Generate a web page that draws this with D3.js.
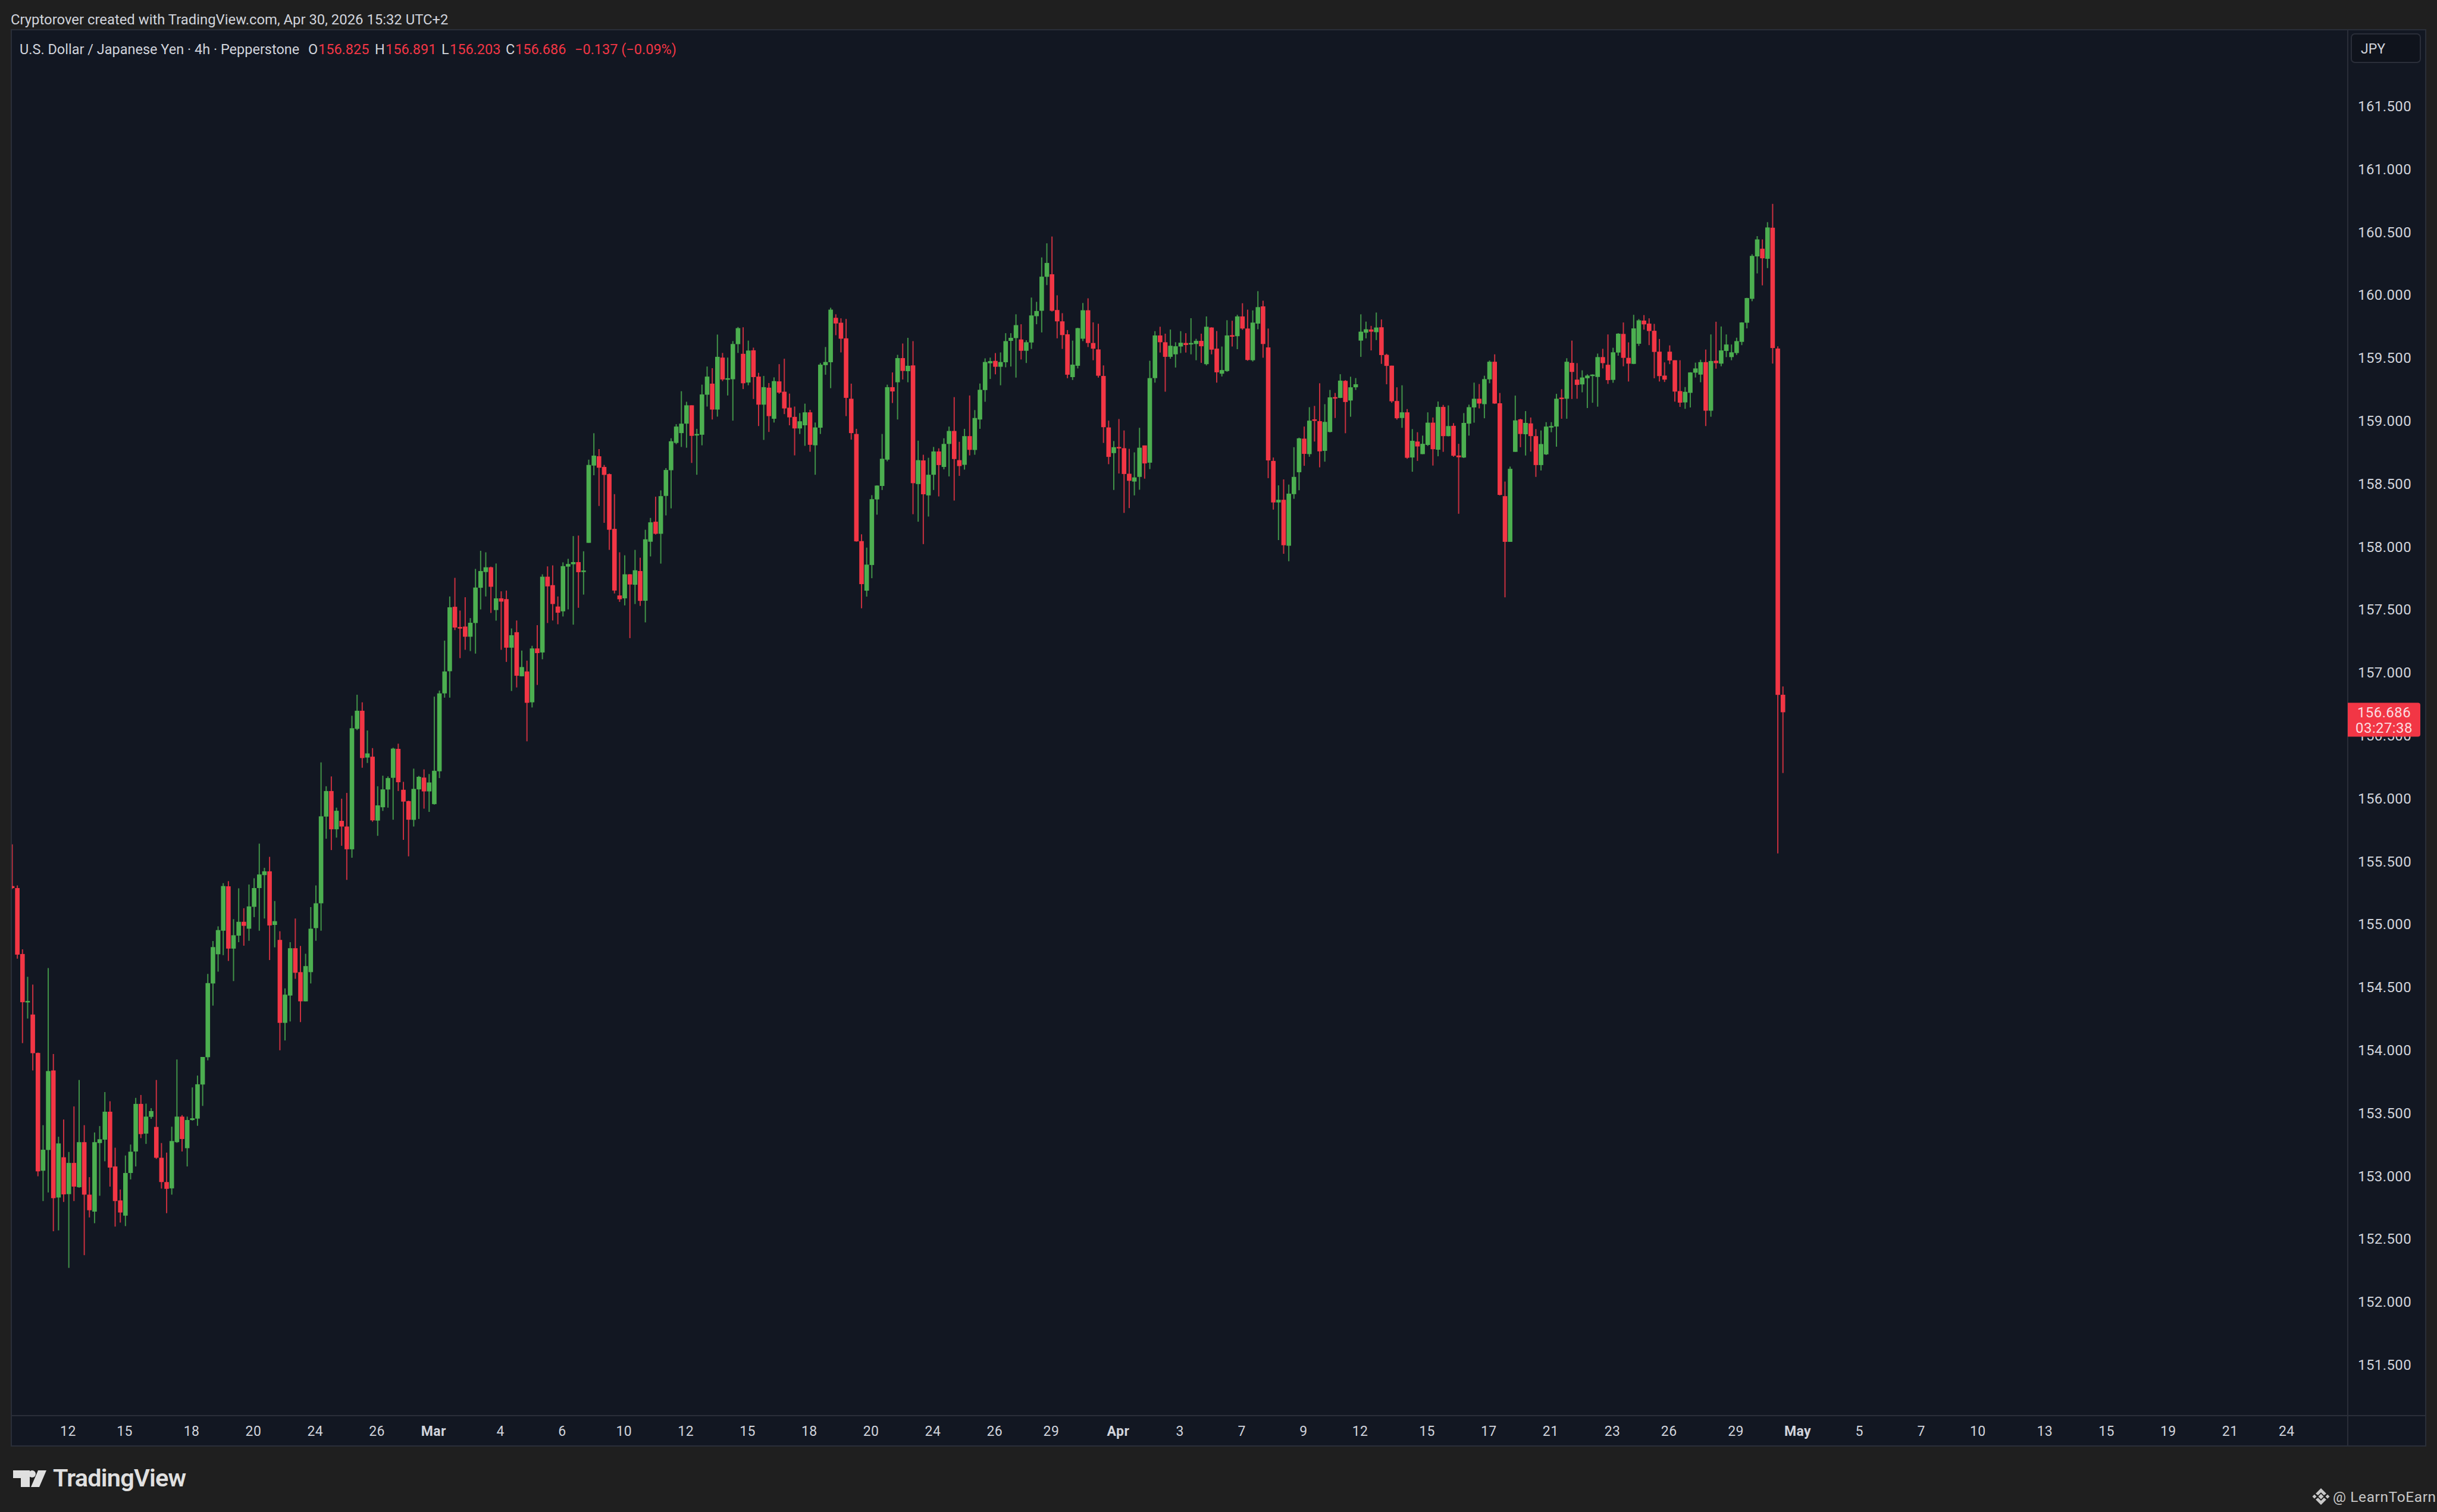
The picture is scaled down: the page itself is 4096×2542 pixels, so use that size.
<!DOCTYPE html>
<html><head><meta charset="utf-8">
<script src="https://cdn.jsdelivr.net/npm/d3@7"></script>
<style>html,body{margin:0;padding:0;background:#1f1f1f}svg{display:block}text{font-family:Roboto,sans-serif}</style>
</head><body><script>
const opens=[155.305,155.289,154.765,154.387,154.284,153.979,153.043,153.208,153.840,152.830,
153.150,152.857,153.105,152.912,153.270,152.853,152.718,153.263,153.290,153.512,
153.077,152.807,152.686,153.025,153.196,153.574,153.338,153.471,153.391,153.146,
152.953,152.903,153.270,153.473,153.222,153.446,153.457,153.728,153.945,154.531,
154.763,154.950,155.303,154.808,154.911,155.021,154.966,155.140,155.289,155.392,
155.422,154.996,154.877,154.218,154.435,154.811,154.621,154.389,154.621,154.971,
155.168,155.857,156.060,155.756,155.823,155.778,155.597,156.554,156.698,156.326,
156.333,155.825,155.931,156.072,156.165,156.395,156.070,155.980,155.831,156.073,
156.167,156.057,155.956,156.217,156.836,157.012,157.524,157.363,157.367,157.286,
157.395,157.675,157.800,157.838,157.498,157.591,157.585,157.199,157.322,156.972,
157.010,156.765,157.193,157.161,157.763,157.696,157.526,157.488,157.843,157.862,
157.879,157.806,158.032,158.646,158.720,158.635,158.578,158.143,157.614,157.591,
157.782,157.699,157.808,157.572,158.041,158.200,158.104,158.405,158.609,158.826,
158.904,158.979,159.125,158.891,158.891,159.209,159.297,159.091,159.504,159.334,
159.332,159.611,159.534,159.306,159.562,159.353,159.130,159.265,159.018,159.315,
159.233,159.106,159.033,158.941,158.966,159.069,158.807,158.947,159.444,159.467,
159.820,159.781,159.657,159.177,158.897,158.046,157.652,157.856,158.377,158.484,
158.693,159.269,159.308,159.500,159.396,159.442,158.499,158.687,158.409,158.573,
158.758,158.635,158.818,158.921,158.689,158.652,158.880,158.770,159.012,159.246,
159.459,159.478,159.431,159.467,159.637,159.659,159.648,159.558,159.624,159.833,
159.876,160.146,160.166,159.882,159.792,159.689,159.349,159.439,159.654,159.880,
159.620,159.569,159.358,158.949,158.745,158.794,158.784,158.581,158.519,158.556,
158.806,158.669,159.341,159.680,159.626,159.510,159.530,159.592,159.620,159.616,
159.612,159.637,159.452,159.743,159.575,159.376,159.397,159.682,159.674,159.831,
159.735,159.483,159.774,159.911,159.585,158.683,158.353,158.374,158.009,158.419,
158.593,158.860,158.737,159.013,158.999,158.763,158.913,159.190,159.184,159.319,
159.163,159.268,159.639,159.702,159.727,159.706,159.745,159.526,159.440,159.159,
159.024,159.069,158.710,158.837,158.737,158.810,158.987,158.772,159.112,158.880,
158.962,158.726,158.710,158.979,159.108,159.177,159.134,159.331,159.471,159.141,
158.403,158.040,158.755,159.013,158.895,158.981,158.880,158.650,158.735,158.954,
158.956,159.186,159.177,159.462,159.329,159.291,159.340,159.363,159.350,159.508,
159.447,159.327,159.544,159.692,159.502,159.454,159.614,159.798,159.774,159.717,
159.551,159.361,159.551,159.483,159.238,159.148,159.224,159.384,159.369,159.468,
159.082,159.479,159.456,159.557,159.508,159.540,159.629,159.781,159.971,160.308,
160.369,160.289,160.536,159.576,156.825];
const highs=[155.637,155.310,154.802,154.584,154.522,153.982,153.405,154.653,153.970,153.313,
153.450,153.192,153.554,153.764,153.405,152.992,153.347,153.398,153.668,153.595,
153.226,152.894,153.164,153.251,153.622,153.645,153.576,153.540,153.764,153.263,
153.187,153.393,153.927,153.485,153.473,153.705,153.799,153.947,154.607,154.868,
154.985,155.328,155.344,155.042,155.287,155.129,155.317,155.367,155.642,155.450,
155.537,155.186,154.946,154.492,154.859,155.047,154.829,154.767,155.138,155.310,
156.287,156.098,156.176,155.928,155.999,156.045,156.658,156.825,156.765,156.541,
156.401,156.098,156.182,156.176,156.404,156.436,156.133,155.984,156.238,156.180,
156.232,156.195,156.810,156.858,157.255,157.606,157.754,157.494,157.600,157.434,
157.825,157.969,157.957,157.843,157.868,157.647,157.653,157.352,157.415,157.176,
157.096,157.214,157.378,157.782,157.845,157.853,157.606,157.877,157.905,158.086,
158.090,157.965,158.693,158.903,158.777,158.651,158.583,158.419,157.957,157.933,
157.784,157.976,157.914,158.136,158.230,158.399,158.449,158.626,158.863,158.975,
159.237,159.153,159.125,158.938,159.289,159.433,159.420,159.687,159.541,159.504,
159.635,159.747,159.745,159.639,159.583,159.383,159.358,159.302,159.347,159.452,
159.495,159.218,159.115,159.063,159.138,159.089,158.988,159.461,159.588,159.900,
159.848,159.816,159.811,159.297,158.938,158.100,157.994,158.411,158.489,158.897,
159.289,159.386,159.526,159.616,159.661,159.635,158.844,158.732,158.708,158.794,
158.783,158.863,158.956,159.190,158.835,158.938,159.203,159.087,159.298,159.498,
159.504,159.540,159.545,159.698,159.698,159.848,159.769,159.642,159.981,159.947,
160.300,160.412,160.466,159.999,159.857,159.723,159.639,159.741,159.938,159.975,
159.784,159.773,159.442,159.003,158.841,159.016,158.925,158.779,158.751,158.946,
158.806,159.479,159.714,159.749,159.694,159.727,159.626,159.714,159.698,159.817,
159.653,159.694,159.831,159.745,159.715,159.592,159.801,159.797,159.844,159.936,
159.885,159.879,160.032,159.956,159.735,158.710,158.489,158.536,158.495,158.792,
158.868,158.956,159.110,159.120,159.300,159.134,159.247,159.223,159.372,159.325,
159.352,159.341,159.848,159.790,159.756,159.862,159.807,159.534,159.440,159.268,
159.284,159.095,158.936,158.911,158.884,159.069,159.028,159.155,159.128,159.124,
158.983,158.819,159.063,159.130,159.305,159.294,159.360,159.481,159.530,159.223,
158.519,158.638,159.202,159.018,159.079,159.028,158.936,158.925,158.991,158.991,
159.216,159.253,159.499,159.639,159.460,159.403,159.371,159.371,159.536,159.574,
159.688,159.582,159.698,159.783,159.625,159.844,159.810,159.842,159.816,159.772,
159.652,159.466,159.601,159.483,159.483,159.270,159.388,159.464,159.487,159.568,
159.688,159.789,159.751,159.688,159.608,159.662,159.785,159.979,160.325,160.469,
160.443,160.580,160.726,159.593,156.891];
const lows=[155.282,154.728,154.057,154.252,153.840,152.999,152.802,152.871,152.562,152.569,
152.795,152.271,152.802,152.908,152.372,152.672,152.626,152.844,153.118,152.917,
152.599,152.631,152.603,152.974,153.077,153.302,153.256,153.455,153.137,152.901,
152.706,152.853,153.265,153.196,153.077,153.441,153.400,153.558,153.920,154.355,
154.625,154.756,154.710,154.550,154.859,154.831,154.870,155.058,154.950,155.047,
154.717,154.818,154.000,154.078,154.229,154.568,154.224,154.389,154.531,154.870,
154.950,155.681,155.591,155.690,155.625,155.354,155.530,156.544,156.245,156.283,
155.816,155.704,155.902,155.928,155.832,156.060,155.672,155.541,155.778,155.838,
155.920,155.894,155.952,156.163,156.802,156.802,157.339,157.116,157.182,157.172,
157.152,157.503,157.606,157.475,157.414,157.182,157.086,156.855,156.883,156.971,
156.455,156.724,156.903,157.107,157.395,157.415,157.385,157.447,157.503,157.382,
157.516,157.621,158.032,158.569,158.325,158.191,157.976,157.630,157.563,157.535,
157.275,157.546,157.531,157.400,157.924,158.098,157.867,158.250,158.306,158.816,
158.794,158.788,158.667,158.573,158.807,159.115,159.012,159.035,159.317,159.203,
159.003,159.541,159.254,159.284,159.175,158.960,158.850,158.913,158.988,159.216,
159.055,158.966,158.727,158.897,158.803,158.756,158.573,158.897,159.368,159.261,
159.682,159.545,159.039,158.852,158.041,157.512,157.605,157.751,158.256,158.452,
158.680,159.143,159.012,159.330,159.308,158.259,158.200,158.022,158.241,158.452,
158.401,158.616,158.560,158.368,158.564,158.614,158.727,158.732,158.938,159.153,
159.334,159.371,159.284,159.427,159.433,159.345,159.489,159.461,159.573,159.769,
159.704,160.080,159.870,159.657,159.573,159.340,159.326,159.418,159.635,159.588,
159.483,159.345,158.826,158.657,158.452,158.583,158.270,158.308,158.409,158.454,
158.542,158.618,159.305,159.544,159.233,159.495,159.425,159.540,159.544,159.530,
159.483,159.462,159.442,159.530,159.305,159.354,159.391,159.592,159.571,159.725,
159.479,159.473,159.729,159.503,158.546,158.296,158.054,157.945,157.886,158.382,
158.450,158.644,158.716,158.837,158.632,158.677,158.909,159.024,159.182,158.903,
159.034,159.247,159.510,159.657,159.561,159.643,159.454,159.292,159.145,159.011,
158.946,158.700,158.597,158.683,158.737,158.802,158.646,158.720,158.755,158.878,
158.716,158.263,158.706,158.884,158.987,159.100,159.022,159.300,159.136,158.409,
157.599,158.040,158.755,158.792,158.726,158.757,158.556,158.607,158.730,158.911,
158.796,159.018,159.018,159.175,159.177,159.228,159.103,159.145,159.114,159.418,
159.295,159.304,159.519,159.435,159.314,159.452,159.597,159.726,159.603,159.340,
159.314,159.310,159.452,159.154,159.112,159.097,159.108,159.346,159.308,158.960,
159.034,159.416,159.435,159.508,159.483,159.525,159.603,159.736,159.952,160.173,
160.078,160.215,159.456,155.564,156.203];
const closes=[155.289,154.760,154.382,154.392,153.977,153.038,153.210,153.835,152.825,153.260,
152.855,153.105,152.917,153.270,152.853,152.729,153.270,153.293,153.512,153.068,
152.802,152.711,153.025,153.194,153.574,153.334,153.473,153.517,153.146,152.953,
152.899,153.279,153.473,153.295,153.446,153.460,153.730,153.947,154.534,154.820,
154.955,155.305,154.808,154.914,155.021,154.989,155.143,155.289,155.397,155.422,
154.992,155.026,154.218,154.442,154.811,154.616,154.389,154.669,154.966,155.168,
155.859,156.060,155.756,155.903,155.778,155.597,156.559,156.698,156.322,156.359,
155.827,155.946,156.073,156.163,156.397,156.130,155.976,155.832,156.077,156.173,
156.057,156.128,156.221,156.836,157.010,157.520,157.359,157.352,157.286,157.397,
157.677,157.808,157.838,157.683,157.591,157.565,157.199,157.298,156.976,157.045,
156.761,157.193,157.156,157.763,157.686,157.546,157.477,157.847,157.864,157.879,
157.799,157.812,158.651,158.725,158.629,158.572,158.136,157.653,157.584,157.782,
157.701,157.814,157.571,158.060,158.195,158.104,158.403,158.611,158.839,158.956,
158.979,159.125,158.882,158.897,159.211,159.353,159.091,159.510,159.330,159.340,
159.612,159.738,159.300,159.560,159.349,159.130,159.269,159.039,159.317,159.226,
159.100,159.029,158.941,158.998,159.069,158.811,158.949,159.448,159.469,159.885,
159.775,159.654,159.184,158.904,158.044,157.704,157.859,158.379,158.487,158.700,
159.269,159.235,159.500,159.398,159.439,158.506,158.689,158.418,158.573,158.758,
158.650,158.818,158.921,158.698,158.642,158.880,158.771,159.024,159.248,159.469,
159.476,159.431,159.469,159.635,159.661,159.762,159.558,159.626,159.839,159.874,
160.147,160.256,159.876,159.792,159.683,159.368,159.448,159.738,159.880,159.620,
159.575,159.360,158.951,158.715,158.792,158.788,158.579,158.525,158.552,158.788,
158.663,159.341,159.680,159.626,159.510,159.598,159.594,159.622,159.604,159.620,
159.637,159.594,159.749,159.567,159.387,159.405,159.680,159.674,159.831,159.735,
159.485,159.782,159.905,159.612,158.687,158.353,158.374,158.013,158.423,158.556,
158.862,158.739,159.003,159.005,158.759,158.993,159.188,159.184,159.321,159.151,
159.268,159.292,159.710,159.729,159.710,159.743,159.524,159.438,159.157,159.022,
159.069,158.708,158.843,158.798,158.819,158.987,158.776,159.112,158.880,158.960,
158.724,158.712,158.985,159.110,159.177,159.139,159.333,159.471,159.139,158.413,
158.040,158.620,159.005,158.897,158.985,158.880,158.650,158.817,158.956,158.960,
159.177,159.179,159.471,159.390,159.287,159.346,159.361,159.369,159.508,159.460,
159.325,159.546,159.694,159.502,159.456,159.736,159.800,159.768,159.715,159.549,
159.357,159.329,159.481,159.234,159.146,159.232,159.386,159.418,159.468,159.082,
159.477,159.460,159.561,159.608,159.546,159.635,159.783,159.977,160.312,160.443,
160.293,160.538,159.580,156.824,156.686];
const priceTicks=[161.5,161,160.5,160,159.5,159,158.5,158,157.5,157,156.5,156,155.5,155,154.5,154,153.5,153,152.5,152,151.5];
const timeTickIndex=[10.8,21.8,34.8,46.8,58.8,70.8,81.8,94.8,106.8,118.8,130.8,142.8,154.8,166.8,178.8,190.8,201.8,214.8,226.8,238.8,250.8,261.8,274.8,286.8,298.8,310.8,321.8,334.8,346.8,358.8,370.8,381.8,394.8,406.8,418.8,430.8,441.8];
const timeTickLabels=["12","15","18","20","24","26","Mar","4","6","10","12","15","18","20","24","26","29","Apr","3","7","9","12","15","17","21","23","26","29","May","5","7","10","13","15","19","21","24"];
const lastPrice=156.686, countdown="03:27:38";

const W=4096,H=2542,L=19,R=3946,RO=4077,T=50,B=2380,BO=2431;
const GREEN="#4caf50",RED="#f23645",TXT="#d1d4dc",PANEL="#121722",LINE="#2a2e39",BG="#1f1f1f";
const svg=d3.select("body").append("svg").attr("width",W).attr("height",H);
svg.append("rect").attr("width",W).attr("height",H).attr("fill",BG);
svg.append("rect").attr("x",L).attr("y",T).attr("width",RO-L).attr("height",BO-T).attr("fill",PANEL).attr("stroke",LINE).attr("stroke-width",2);
svg.append("line").attr("x1",L).attr("x2",RO).attr("y1",B).attr("y2",B).attr("stroke",LINE).attr("stroke-width",2);
svg.append("line").attr("x1",R).attr("x2",R).attr("y1",T).attr("y2",BO).attr("stroke",LINE).attr("stroke-width",2);

const x=d3.scaleLinear().domain([0,344]).range([20.5,2996.7]);
const y=d3.scaleLinear().domain([151.097,162.109]).range([B,T]);
svg.append("clipPath").attr("id","plot").append("rect").attr("x",L+1).attr("y",T).attr("width",R-L-1).attr("height",B-T);

const candles=d3.range(opens.length).map(i=>({i,o:opens[i],h:highs[i],l:lows[i],c:closes[i]}));
const g=svg.append("g").attr("clip-path","url(#plot)");
const col=d=>d.c>=d.o?GREEN:RED;
g.selectAll("line.w").data(candles).join("line").attr("class","w")
 .attr("x1",d=>x(d.i)).attr("x2",d=>x(d.i)).attr("y1",d=>y(d.h)).attr("y2",d=>y(d.l))
 .attr("stroke",col).attr("stroke-width",2).attr("stroke-opacity",.82);
g.selectAll("rect.b").data(candles).join("rect").attr("class","b")
 .attr("x",d=>x(d.i)-3.8).attr("width",7.6)
 .attr("y",d=>y(Math.max(d.o,d.c))).attr("height",d=>Math.max(2.5,Math.abs(y(d.o)-y(d.c))))
 .attr("fill",col);

// price axis
const ay=svg.append("g").attr("transform",`translate(${R},0)`)
 .call(d3.axisRight(y).tickValues(priceTicks).tickFormat(d3.format(".3f")).tickSize(0).tickPadding(17));
ay.select(".domain").remove();
ay.selectAll("text").attr("fill",TXT).attr("font-size",24).attr("font-family","Roboto").attr("letter-spacing",.4);

// time axis
const ax=svg.append("g").attr("transform",`translate(0,${B})`)
 .call(d3.axisBottom(x).tickValues(timeTickIndex).tickFormat((d,i)=>timeTickLabels[i]).tickSize(0).tickPadding(18));
ax.select(".domain").remove();
ax.selectAll("text").attr("fill",TXT).attr("font-size",23).attr("font-family","Roboto").attr("letter-spacing",.4)
  .attr("font-weight",(d,i)=>/[A-Z]/.test(timeTickLabels[i])?700:400);

// last price tag
const tagTop=y(lastPrice)-16;
svg.append("path").attr("d",`M${R} ${tagTop}H4064a4 4 0 0 1 4 4V${tagTop+53}a4 4 0 0 1 -4 4H${R}Z`).attr("fill",RED);
svg.append("text").attr("x",4007).attr("y",y(lastPrice)+8.5).attr("text-anchor","middle").attr("fill","#fbdde0").attr("font-size",24).attr("letter-spacing",.4).text(d3.format(".3f")(lastPrice));
svg.append("text").attr("x",4007).attr("y",y(lastPrice)+34.5).attr("text-anchor","middle").attr("fill","#fbdde0").attr("font-size",24).attr("letter-spacing",.4).text(countdown);

// JPY button
svg.append("rect").attr("x",3952).attr("y",57).attr("width",116).attr("height",48).attr("rx",6).attr("fill","#0f131c").attr("stroke",LINE).attr("stroke-width",2);
svg.append("text").attr("x",3968).attr("y",90).attr("fill",TXT).attr("font-size",23).text("JPY");

// header + legend
svg.append("text").attr("x",18).attr("y",41).attr("fill",TXT).attr("font-size",23.85).text("Cryptorover created with TradingView.com, Apr 30, 2026 15:32 UTC+2");
const leg=[[33,"U.S. Dollar / Japanese Yen · 4h · Pepperstone",TXT],[518,"O",TXT],[535,"156.825",RED],[630,"H",TXT],[648,"156.891",RED],[742,"L",TXT],[756,"156.203",RED],[850,"C",TXT],[866,"156.686",RED],[966,"−0.137 (−0.09%)",RED]];
svg.selectAll("text.leg").data(leg).join("text").attr("class","leg").attr("x",d=>d[0]).attr("y",91).attr("fill",d=>d[2]).attr("font-size",23.5).text(d=>d[1]);

// logo
const lg=svg.append("g").attr("fill","#e0e0e0");
lg.append("path").attr("d","M22 2472H50V2500H35V2485H22Z");
lg.append("circle").attr("cx",54).attr("cy",2478).attr("r",6);
lg.append("path").attr("d","M64 2472H78L66 2500H52Z");
lg.append("text").attr("x",89).attr("y",2499).attr("font-family","Inter").attr("font-weight",600).attr("font-size",41.5).attr("letter-spacing",-.8).text("TradingView");

// credit
const cr=svg.append("g").attr("fill","#c8c8c8");
const dia=(cx,cy,r)=>`M${cx} ${cy-r}L${cx+r} ${cy}L${cx} ${cy+r}L${cx-r} ${cy}Z`;
cr.append("path").attr("d",dia(3901,2516,4.5));
cr.append("path").attr("d",dia(3890,2516,3.5));
cr.append("path").attr("d",dia(3912,2516,3.5));
cr.append("path").attr("d","M3901 2502L3910 2511L3906 2514L3901 2509L3896 2514L3892 2511Z");
cr.append("path").attr("d","M3901 2530L3910 2521L3906 2518L3901 2523L3896 2518L3892 2521Z");
cr.append("text").attr("x",3921).attr("y",2525).attr("font-size",24.5).attr("letter-spacing",.6).text("@ LearnToEarn");
</script></body></html>
